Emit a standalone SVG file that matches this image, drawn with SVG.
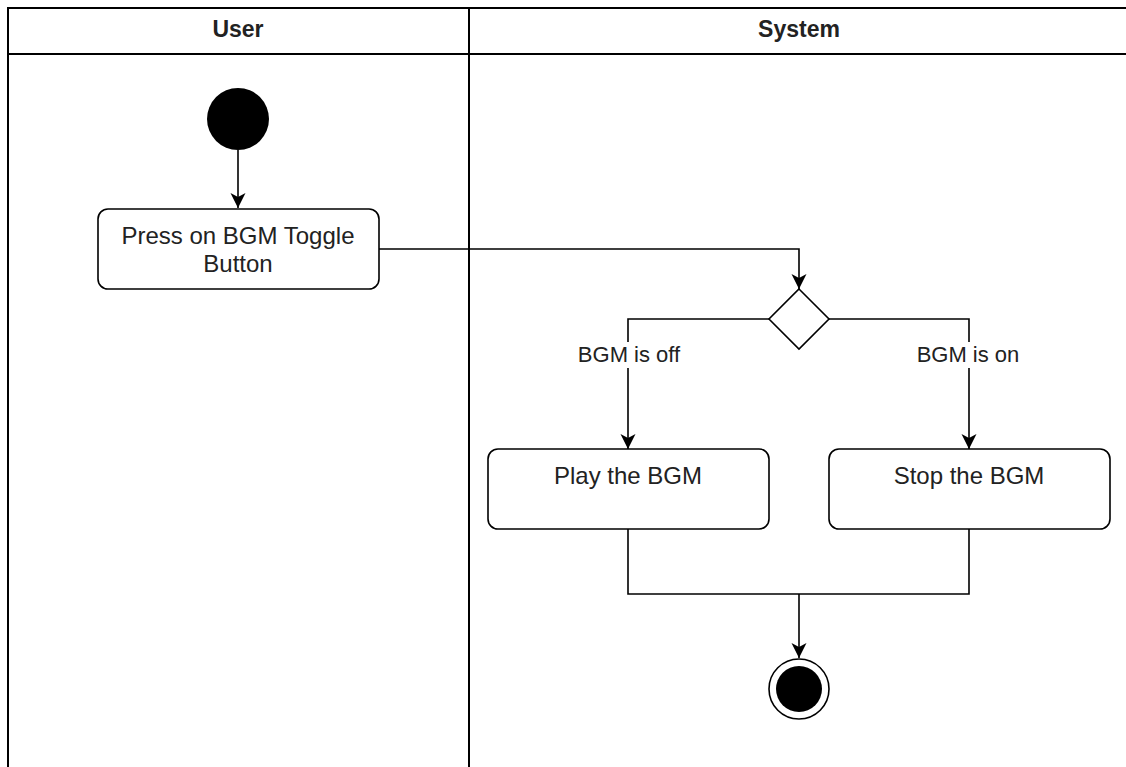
<svg xmlns="http://www.w3.org/2000/svg" width="1126" height="767" viewBox="0 0 1126 767">
  <style>
    .lane { fill: none; stroke: #000; stroke-width: 2; }
    .box { fill: #fff; stroke: #000; stroke-width: 1.6; }
    .edge { fill: none; stroke: #000; stroke-width: 1.6; }
    .head { font-family: "Liberation Sans", Arial, Helvetica, sans-serif; font-weight: bold; font-size: 23px; fill: #222; text-anchor: middle; }
    .txt { font-family: "Liberation Sans", Arial, Helvetica, sans-serif; font-size: 24px; fill: #222; text-anchor: middle; }
    .lbl { font-family: "Liberation Sans", Arial, Helvetica, sans-serif; font-size: 22px; fill: #222; text-anchor: middle; }
  </style>
  <defs>
    <marker id="arrow" markerUnits="userSpaceOnUse" markerWidth="16" markerHeight="16" viewBox="0 0 16 16" refX="15" refY="8" orient="auto">
      <path d="M0,0.5 L15,8 L0,15.5 L4,8 Z" fill="#000"/>
    </marker>
  </defs>

  <rect width="1126" height="767" fill="#fff"/>

  <!-- swimlane pool -->
  <g id="pool">
    <rect class="lane" x="8" y="8" width="1130" height="770"/>
    <line class="lane" x1="8" y1="54" x2="1130" y2="54"/>
    <line class="lane" x1="469" y1="8" x2="469" y2="770"/>
    <text class="head" x="238" y="37">User</text>
    <text class="head" x="799" y="37">System</text>
  </g>

  <!-- connectors -->
  <g id="connectors">
    <line class="edge" x1="238" y1="150" x2="238" y2="208" marker-end="url(#arrow)"/>
    <polyline class="edge" points="379,249 799,249 799,289" marker-end="url(#arrow)"/>
    <polyline class="edge" points="769,319 628,319 628,449" marker-end="url(#arrow)"/>
    <polyline class="edge" points="829,319 969,319 969,449" marker-end="url(#arrow)"/>
    <polyline class="edge" points="628,529 628,594 969,594 969,529"/>
    <line class="edge" x1="799" y1="594" x2="799" y2="658" marker-end="url(#arrow)"/>
    <rect x="574" y="342" width="110" height="26" fill="#fff"/>
    <text class="lbl" x="629" y="362">BGM is off</text>
    <rect x="913" y="342" width="110" height="26" fill="#fff"/>
    <text class="lbl" x="968" y="362">BGM is on</text>
  </g>

  <g id="start">
    <circle cx="238" cy="119" r="31" fill="#000"/>
  </g>

  <g id="press">
    <rect class="box" x="98" y="209" width="281" height="80" rx="10"/>
    <text class="txt" x="238" y="244">Press on BGM Toggle</text>
    <text class="txt" x="238" y="272">Button</text>
  </g>

  <g id="decision">
    <polygon class="box" points="799,289 829,319 799,349 769,319"/>
  </g>

  <g id="play">
    <rect class="box" x="488" y="449" width="281" height="80" rx="10"/>
    <text class="txt" x="628" y="484">Play the BGM</text>
  </g>

  <g id="stop">
    <rect class="box" x="829" y="449" width="281" height="80" rx="10"/>
    <text class="txt" x="969" y="484">Stop the BGM</text>
  </g>

  <g id="end">
    <circle cx="799" cy="689" r="30" fill="#fff" stroke="#000" stroke-width="1.6"/>
    <circle cx="799" cy="689" r="23" fill="#000"/>
  </g>
</svg>
